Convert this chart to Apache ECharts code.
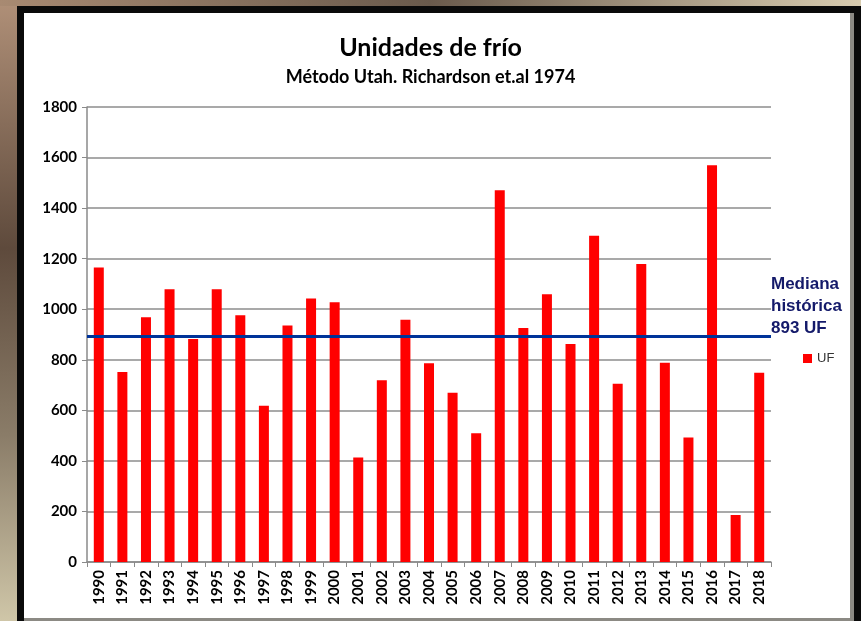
<!DOCTYPE html>
<html>
<head>
<meta charset="utf-8">
<script src="https://cdn.jsdelivr.net/npm/echarts@6/dist/echarts.min.js"></script>
<style>
html,body{margin:0;padding:0;background:#2a241f;}
#c{width:861px;height:621px;}
</style>
</head>
<body>
<div id="c"></div>
<script>
const years = ['1990','1991','1992','1993','1994','1995','1996','1997','1998','1999','2000','2001','2002','2003','2004','2005','2006','2007','2008','2009','2010','2011','2012','2013','2014','2015','2016','2017','2018'];
const ufValues = [1165,752,968,1079,882,1079,976,618,936,1042,1028,413,719,958,786,670,509,1471,926,1059,862,1291,705,1179,788,493,1570,186,749];
const medianValue = 893;
const yTicks = [0,200,400,600,800,1000,1200,1400,1600,1800];
const titleText = 'Unidades de frío';
const subtitleText = 'Método Utah. Richardson et.al 1974';
const medianLabel = ['Mediana', 'histórica', medianValue + ' UF'];
const seriesName = 'UF';

const chart = echarts.init(document.getElementById('c'), null, {renderer:'canvas'});
const titleFont = 'Lato, "Open Sans", sans-serif';
chart.setOption({
  backgroundColor: {
    type:'linear', x:0, y:0, x2:0, y2:1,
    colorStops:[{offset:0,color:'#b09078'},{offset:0.4,color:'#5e4a3c'},{offset:0.7,color:'#8a7c68'},{offset:1,color:'#cfc6a8'}]
  },
  animation:false,
  graphic:[
    {type:'rect', z:-11, shape:{x:0,y:0,width:861,height:6}, style:{fill:{type:'linear',x:0,y:0,x2:1,y2:0,colorStops:[{offset:0,color:'#a88a72'},{offset:0.5,color:'#6a5a4c'},{offset:1,color:'#d8ccb0'}]}}},
    {type:'rect', z:-10, shape:{x:17,y:6,width:844,height:615}, style:{fill:'#0a0a0a'}},
    {type:'rect', z:-9, shape:{x:24,y:13,width:830,height:608}, style:{fill:'#8c8a84'}},
    {type:'rect', z:-8, shape:{x:24,y:13,width:826,height:605}, style:{fill:'#ffffff'}},
    {type:'text', left:771, top:273, style:{text:medianLabel.join('\n'), font:'bold 17px "Liberation Sans", Arial, sans-serif', fill:'#141a6a', lineHeight:22}}
  ],
  title:[
    {text:titleText, left:'center', top:30, textStyle:{fontFamily:titleFont, fontWeight:'bold', fontSize:25, color:'#000'}},
    {text:subtitleText, left:'center', top:63, textStyle:{fontFamily:titleFont, fontWeight:'bold', fontSize:18, color:'#000'}}
  ],
  legend:{
    data:[seriesName], left:798, top:347, icon:'rect', itemWidth:9, itemHeight:9, itemGap:4,
    textStyle:{fontFamily:'"Liberation Sans", Arial, sans-serif', fontSize:13, color:'#333'}
  },
  grid:{left:87, right:90, top:107, bottom:59, containLabel:false},
  xAxis:{
    type:'category', data:years, boundaryGap:true,
    axisLine:{lineStyle:{color:'#8a8a8a', width:1.5}},
    axisTick:{show:true, alignWithLabel:false, length:5, lineStyle:{color:'#8a8a8a'}},
    axisLabel:{rotate:90, interval:0, margin:8, fontFamily:titleFont, fontWeight:'bold', fontSize:15, color:'#000'}
  },
  yAxis:{
    type:'value', min:0, max:1800, interval:200,
    axisLine:{show:true, lineStyle:{color:'#8a8a8a', width:1.5}},
    axisTick:{show:true, length:5, lineStyle:{color:'#8a8a8a'}},
    splitLine:{lineStyle:{color:'#8c8c8c', width:1.5}},
    axisLabel:{margin:10, fontFamily:titleFont, fontWeight:'bold', fontSize:15, color:'#000',
      formatter:function(v){return yTicks.indexOf(v)>=0 ? String(v) : '';}}
  },
  series:[{
    name:seriesName, type:'bar', data:ufValues, barWidth:10,
    itemStyle:{color:'#ff0000'},
    markLine:{
      silent:true, symbol:['none','none'],
      lineStyle:{color:'#003399', width:3, type:'solid'},
      label:{show:false},
      data:[{yAxis:medianValue}]
    }
  }]
});
</script>
</body>
</html>
